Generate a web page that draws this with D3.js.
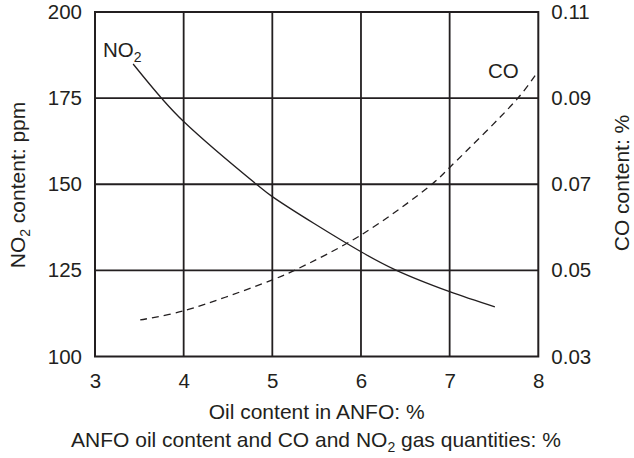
<!DOCTYPE html>
<html>
<head>
<meta charset="utf-8">
<script src="https://cdn.jsdelivr.net/npm/d3@7"></script>
<style>
  body { margin: 0; background: #fff; }
  svg text { font-family: "Liberation Sans", Arial, sans-serif; fill: #231f20; }
</style>
</head>
<body>
<svg id="chart" width="634" height="458"></svg>
<script>
// values
const oilTicks = [3, 4, 5, 6, 7, 8];
const no2Ticks = [100, 125, 150, 175, 200];
const coTicks = [0.03, 0.05, 0.07, 0.09, 0.11];

const no2Oil = [3.43, 3.75, 4.0, 4.82, 5.0, 6.0, 6.4, 7.0, 7.51];
const no2Val = [184.9, 175, 168.2, 150, 146.4, 130.4, 125, 118.8, 114.4];

const coOil = [3.51, 4.0, 5.0, 5.25, 6.0, 6.8, 7.0, 7.77, 7.97];
const coVal = [0.0385, 0.0406, 0.0478, 0.05, 0.0582, 0.07, 0.0739, 0.09, 0.0954];

const ink = "#231f20";
const fs = 20.5;
const tfs = 21;
const sub = 14;
const svg = d3.select("#chart");

const x = d3.scaleLinear().domain([3, 8]).range([95, 538.3]);
const yNO2 = d3.scaleLinear().domain([100, 200]).range([356.5, 12]);
const yCO = d3.scaleLinear().domain([0.03, 0.11]).range([356.5, 12]);

// grid
const grid = svg.append("g");
grid.selectAll(".vg")
  .data(oilTicks.slice(1, -1))
  .join("line")
  .attr("x1", d => x(d)).attr("x2", d => x(d))
  .attr("y1", yNO2(200)).attr("y2", yNO2(100))
  .attr("stroke", ink).attr("stroke-width", 1.8);
grid.selectAll(".hg")
  .data(no2Ticks.slice(1, -1))
  .join("line")
  .attr("x1", x(3)).attr("x2", x(8))
  .attr("y1", d => yNO2(d)).attr("y2", d => yNO2(d))
  .attr("stroke", ink).attr("stroke-width", 1.8);

// frame
svg.append("rect")
  .attr("x", x(3)).attr("y", yNO2(200))
  .attr("width", x(8) - x(3)).attr("height", yNO2(100) - yNO2(200))
  .attr("fill", "none").attr("stroke", ink).attr("stroke-width", 2);

// axes (labels only)
function styleAxis(g) {
  g.attr("font-size", fs);
  g.select(".domain").remove();
  g.selectAll(".tick line").remove();
  g.selectAll("text").attr("fill", ink)
    .style("font-family", '"Liberation Sans", Arial, sans-serif');
}

svg.append("g")
  .attr("transform", `translate(0,${yNO2(100)})`)
  .call(d3.axisBottom(x).tickValues(oilTicks).tickFormat(d3.format("d")).tickSize(0).tickPadding(17))
  .call(styleAxis);

svg.append("g")
  .attr("transform", `translate(${x(3)},0)`)
  .call(d3.axisLeft(yNO2).tickValues(no2Ticks).tickSize(0).tickPadding(13))
  .call(styleAxis);

svg.append("g")
  .attr("transform", `translate(${x(8)},0)`)
  .call(d3.axisRight(yCO).tickValues(coTicks).tickFormat(d3.format(".2f")).tickSize(0).tickPadding(13))
  .call(styleAxis);

// curves
const no2Data = no2Oil.map((d, i) => [d, no2Val[i]]);
const coData = coOil.map((d, i) => [d, coVal[i]]);

svg.append("path")
  .datum(no2Data)
  .attr("d", d3.line().x(d => x(d[0])).y(d => yNO2(d[1])).curve(d3.curveCatmullRom))
  .attr("fill", "none").attr("stroke", ink).attr("stroke-width", 1.3);

svg.append("path")
  .datum(coData)
  .attr("d", d3.line().x(d => x(d[0])).y(d => yCO(d[1])).curve(d3.curveCatmullRom))
  .attr("fill", "none").attr("stroke", ink).attr("stroke-width", 1.3)
  .attr("stroke-dasharray", "7,5");

// curve labels
const no2Label = svg.append("text").attr("x", 103).attr("y", 57).attr("font-size", fs);
no2Label.append("tspan").text("NO");
no2Label.append("tspan").text("2").attr("font-size", sub).attr("dy", 5);

svg.append("text").attr("x", 488).attr("y", 78).attr("font-size", fs).text("CO");

// axis titles
svg.append("text")
  .attr("x", (x(3) + x(8)) / 2).attr("y", 419)
  .attr("text-anchor", "middle").attr("font-size", tfs)
  .text("Oil content in ANFO: %");

const cap = svg.append("text")
  .attr("x", 316).attr("y", 447)
  .attr("text-anchor", "middle").attr("font-size", tfs);
cap.append("tspan").text("ANFO oil content and CO and NO");
cap.append("tspan").text("2").attr("font-size", sub).attr("dy", 5);
cap.append("tspan").text(" gas quantities: %").attr("dy", -5);

const leftTitle = svg.append("text")
  .attr("transform", "translate(25,185) rotate(-90)")
  .attr("text-anchor", "middle").attr("font-size", tfs);
leftTitle.append("tspan").text("NO");
leftTitle.append("tspan").text("2").attr("font-size", sub).attr("dy", 5);
leftTitle.append("tspan").text(" content: ppm").attr("dy", -5);

svg.append("text")
  .attr("transform", "translate(629,183) rotate(-90)")
  .attr("text-anchor", "middle").attr("font-size", tfs)
  .text("CO content: %");
</script>
</body>
</html>
